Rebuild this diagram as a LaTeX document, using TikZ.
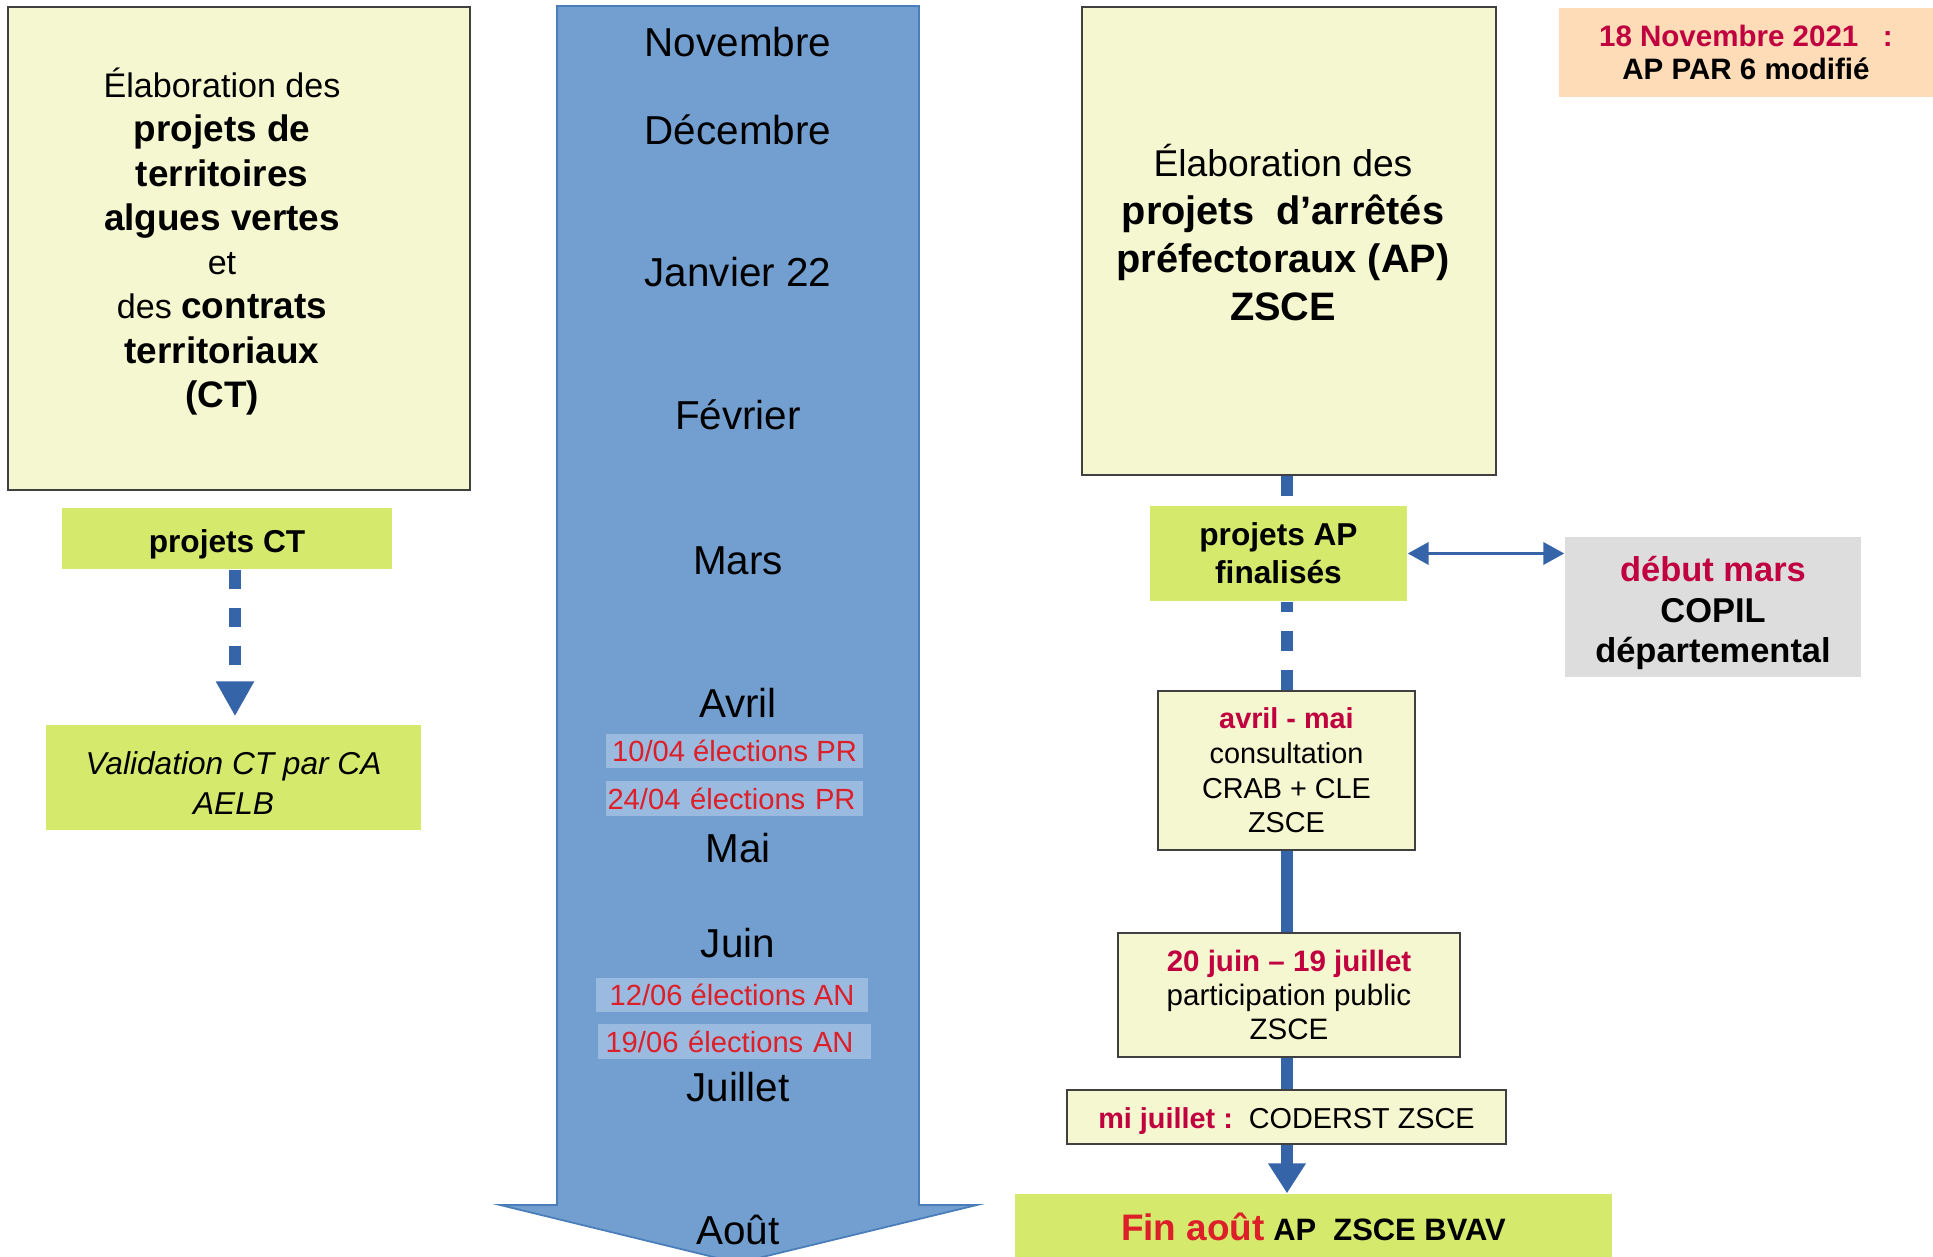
\documentclass[tikz,border=0pt]{standalone}
\usepackage{fontspec}
\setmainfont{Liberation Sans}
\usetikzlibrary{arrows.meta}
\definecolor{jaunepale}{HTML}{F5F7D0}
\definecolor{vertanis}{HTML}{D5E96D}
\definecolor{bleufleche}{HTML}{729FCF}
\definecolor{bleubord}{HTML}{4A7EBB}
\definecolor{bleuclair}{HTML}{9BBADF}
\definecolor{bleutrait}{HTML}{3565A8}
\definecolor{cramoisi}{HTML}{C0003F}
\definecolor{rougevif}{HTML}{DC1F28}
\definecolor{grisclair}{HTML}{DDDDDD}
\definecolor{peche}{HTML}{FDDCB7}
\newcommand{\grasA}{\bfseries\fontsize{10.5}{12.6}\selectfont}
\newcommand{\grasB}{\bfseries\fontsize{11.3}{13.65}\selectfont}
\tikzset{
  boite/.style={draw=black!75, line width=0.6pt, fill=jaunepale, inner sep=0pt, align=center},
  verte/.style={fill=vertanis, inner sep=0pt, align=center},
  texte/.style={inner sep=0pt, align=center},
  mois/.style={font=\fontsize{11.5}{13}\selectfont, text height=0.29cm, text depth=0pt, inner sep=0pt},
  elec/.style={fill=bleuclair, text=rougevif, font=\fontsize{8.3}{9}\selectfont, inner sep=0pt, minimum height=0.345cm},
  lien/.style={draw=bleutrait, line width=3.4pt},
  pointille/.style={lien, dash pattern=on 0.2cm off 0.19cm}
}
\begin{document}
\begin{tikzpicture}
        \useasboundingbox (0,0) rectangle (19.33,-12.57);
        % Axes des traits verticaux
        \coordinate (axeg) at (2.35,0);
        \coordinate (axe) at (12.87,0);
        % Grande flèche du calendrier
        \filldraw[fill=bleufleche, draw=bleubord, line width=0.5pt] (5.57,-0.06) -- (9.19,-0.06) -- (9.19,-12.05) -- (9.77,-12.05) -- (7.38,-12.63) -- (5.00,-12.05) -- (5.57,-12.05) -- cycle;
        % Les mois
        \node[mois] (nov) at (7.38,-0.42) {Novembre};
        \node[mois] (dec) at (7.38,-1.30) {Décembre};
        \node[mois] (jan) at (7.38,-2.72) {Janvier 22};
        \node[mois] (fev) at (7.38,-4.15) {Février};
        \node[mois] (mar) at (7.38,-5.60) {Mars};
        \node[mois] (avr) at (7.38,-7.03) {Avril};
        \node[mois] (mai) at (7.38,-8.48) {Mai};
        \node[mois] (juin) at (7.38,-9.43) {Juin};
        \node[mois] (juil) at (7.38,-10.87) {Juillet};
        \node[mois] (aout) at (7.38,-12.30) {Août};
        % Élections
        \node[elec, minimum width=2.57cm] (pr1) at (7.345,-7.51) {10/04 élections PR};
        \node[elec, minimum width=2.57cm, text width=2.54cm, align=left] (pr2) at (7.345,-7.985) {24/04 élections PR};
        \node[elec, minimum width=2.72cm] (an1) at (7.32,-9.95) {12/06 élections AN};
        \node[elec, minimum width=2.73cm, text width=2.58cm, align=left] (an2) at (7.345,-10.415) {19/06 élections AN};
        % Colonne de gauche : contrats territoriaux
        \node[boite, minimum width=4.62cm, minimum height=4.83cm] (ptav) at (2.39,-2.485) {};
        \node[texte, font=\fontsize{9.7}{12.6}\selectfont] (ptavtexte) at (2.22,-2.415) {Élaboration des\\ {\grasA projets de}\\ {\grasA territoires}\\ {\grasA algues vertes}\\ et\\ des {\grasA contrats}\\ {\grasA territoriaux}\\ {\grasA (CT)}};
        \node[verte, minimum width=3.30cm, minimum height=0.61cm, text height=0.29cm, text depth=0pt, font=\bfseries\fontsize{9}{10}\selectfont] (projCT) at (2.27,-5.385) {projets CT};
        \node[verte, minimum width=3.75cm, minimum height=1.05cm] (valid) at (2.335,-7.775) {};
        \node[texte, font=\itshape\fontsize{9}{11.4}\selectfont] (validtexte) at (2.335,-7.835) {Validation CT par CA\\ AELB};
        \draw[pointille, dash pattern=on 0.19cm off 0.19cm, -{Triangle[width=0.36cm,length=0.35cm]}, shorten >=0.08cm] (projCT.south -| axeg) -- (valid.north -| axeg);
        % Colonne de droite : arrêtés préfectoraux
        \node[boite, minimum width=4.14cm, minimum height=4.68cm] (arretes) at (12.89,-2.41) {};
        \node[texte, font=\fontsize{10.6}{13.65}\selectfont] (arretestexte) at (12.83,-2.33) {Élaboration des\\ {\grasB projets\ \ d’arrêtés}\\ {\grasB préfectoraux (AP)}\\ {\grasB ZSCE}};
        \node[verte, minimum width=2.57cm, minimum height=0.95cm, font=\bfseries\fontsize{9}{10.8}\selectfont] (projAP) at (12.785,-5.535) {projets AP\\ finalisés};
        \node[fill=grisclair, minimum width=2.96cm, minimum height=1.40cm] (copil) at (17.13,-6.07) {};
        \node[texte, font=\bfseries\fontsize{9.8}{11.6}\selectfont] (copiltexte) at (17.13,-6.13) {\textcolor{cramoisi}{début mars}\\ COPIL\\ départemental};
        \node[boite, minimum width=2.57cm, minimum height=1.59cm, font=\fontsize{8.2}{9.9}\selectfont] (consult) at (12.865,-7.705) {\textcolor{cramoisi}{\bfseries avril - mai}\\ consultation\\ CRAB + CLE\\ ZSCE};
        \node[boite, minimum width=3.42cm, minimum height=1.24cm, font=\fontsize{8.4}{9.8}\selectfont] (public) at (12.89,-9.95) {\textcolor{cramoisi}{\bfseries 20 juin – 19 juillet}\\ participation public\\ ZSCE};
        \node[boite, minimum width=4.39cm, minimum height=0.54cm, text height=0.24cm, text depth=0pt, font=\fontsize{8.2}{9.9}\selectfont] (coderst) at (12.865,-11.17) {\textcolor{cramoisi}{\bfseries mi juillet :}\ \ CODERST ZSCE};
        \node[verte, minimum width=5.97cm, minimum height=0.63cm, text height=0.31cm, text depth=0pt, font=\bfseries\fontsize{8.8}{10}\selectfont] (final) at (13.135,-12.255) {\textcolor{rougevif}{\fontsize{10.5}{12}\selectfont Fin août} AP\ \ ZSCE BVAV};
        \node[fill=peche, inner sep=0pt, align=center, minimum width=3.74cm, minimum height=0.89cm, font=\bfseries\fontsize{8.4}{9.6}\selectfont] (parsix) at (17.46,-0.525) {\textcolor{cramoisi}{18 Novembre 2021\ \ \ :}\\ AP PAR 6 modifié};
        % Liens
        \draw[pointille] (arretes.south -| axe) -- (projAP.north -| axe);
        \draw[pointille] (consult.north -| axe) -- (projAP.south -| axe);
        \draw[lien] (consult.south -| axe) -- (public.north -| axe);
        \draw[lien] (public.south -| axe) -- (coderst.north -| axe);
        \draw[lien, -{Triangle[width=0.36cm,length=0.3cm]}] (coderst.south -| axe) -- (final.north -| axe);
        \draw[draw=bleutrait, line width=1.1pt, {Triangle[width=0.22cm,length=0.21cm]}-{Triangle[width=0.22cm,length=0.21cm]}] (projAP.east) -- (projAP.east -| copil.west);
    \end{tikzpicture}
\end{document}
